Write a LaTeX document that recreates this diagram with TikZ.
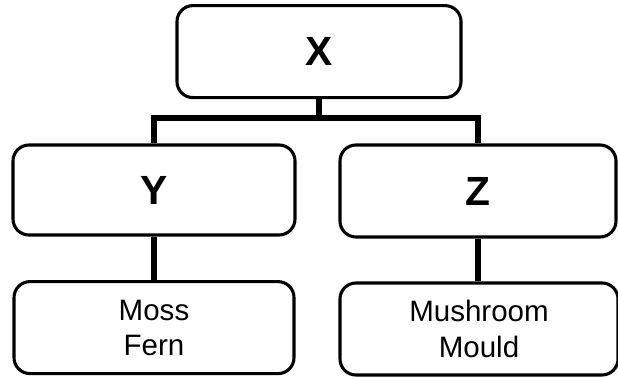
\documentclass[tikz,border=0pt]{standalone}
\usepackage{fontspec}
\setmainfont{Liberation Sans}
\usepackage{tikz}
\usetikzlibrary{positioning,calc}

\tikzset{
  group/.style={draw,line width=2.2pt,rounded corners=0.4cm,minimum width=7.1cm,minimum height=2.3cm,
    font=\fontsize{29}{30}\selectfont\bfseries},
  member/.style={draw,line width=2.2pt,rounded corners=0.4cm,minimum width=7.0cm,minimum height=2.3cm,
    align=center,font=\fontsize{21}{25}\selectfont},
  link/.style={line width=4pt}
}

\begin{document}
\begin{tikzpicture}
\useasboundingbox (0.00,0.00) rectangle (15.45,-9.45);
% top level
\node[group] (x) at (7.975,-1.29) {X};
% second level
\node[group,minimum width=7.05cm,minimum height=2.25cm] (y) at (3.85,-4.75) {Y};
\node[group,minimum width=6.9cm] (z) at (11.95,-4.775) {Z};
% examples
\node[member] (moss) at (3.85,-8.19) {Moss\\Fern};
\node[member,minimum width=6.95cm] (mushroom) at (11.975,-8.225) {Mushroom\\Mould};
% connectors
\coordinate (bar) at ($(x.south)+(0,-0.475)$);
\draw[link] (x.south) -- (bar) -| (y.north);
\draw[link] (bar) -| (z.north);
\draw[link] (y.south) -- (y.south |- moss.north);
\draw[link] (z.south) -- (z.south |- mushroom.north);
\end{tikzpicture}
\end{document}
